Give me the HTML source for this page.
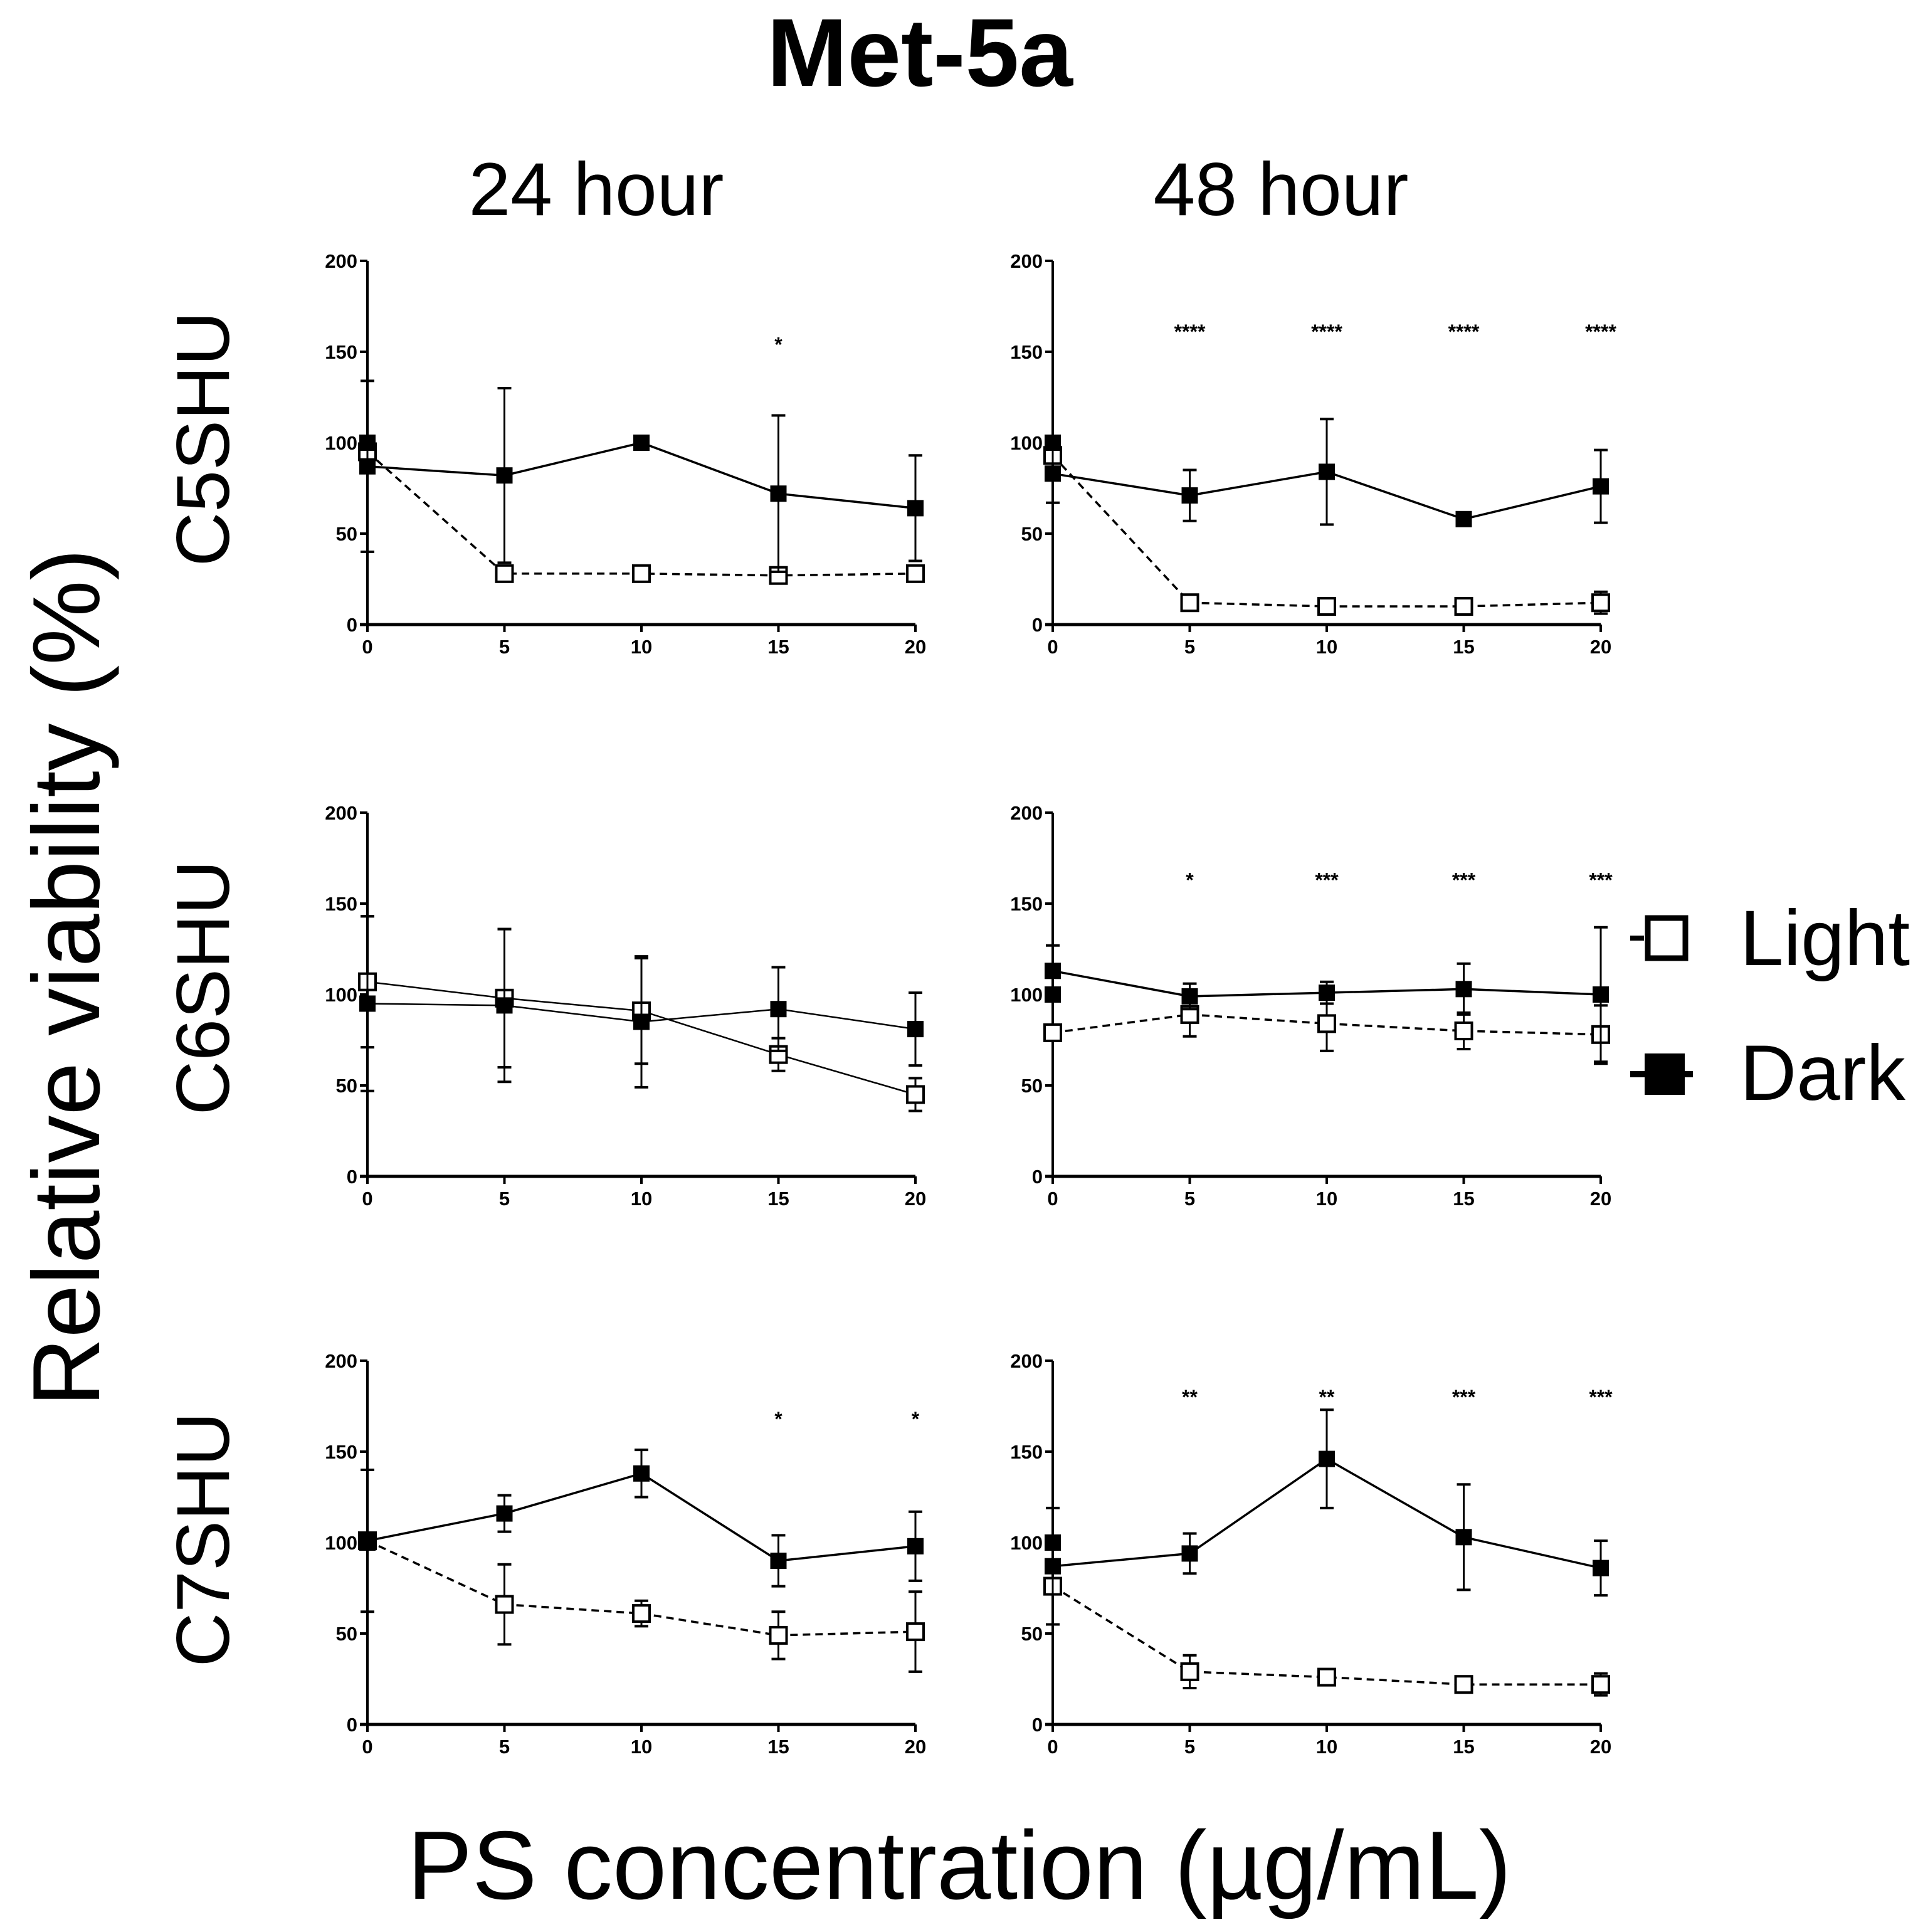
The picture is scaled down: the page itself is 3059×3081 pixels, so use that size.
<!DOCTYPE html>
<html><head><meta charset="utf-8"><style>
html,body{margin:0;padding:0;background:#fff;}
svg{display:block;font-family:"Liberation Sans",sans-serif;}
</style></head><body>
<svg id="chart" width="3059" height="3081" viewBox="0 0 3059 3081" xmlns="http://www.w3.org/2000/svg">
<text x="1467" y="137" font-size="154" font-weight="bold" text-anchor="middle">Met-5a</text>
<text x="951" y="343" font-size="120" text-anchor="middle">24 hour</text>
<text x="2043" y="343" font-size="120" text-anchor="middle">48 hour</text>
<text transform="translate(365,700) rotate(-90)" font-size="120" text-anchor="middle">C5SHU</text>
<text transform="translate(365,1575) rotate(-90)" font-size="120" text-anchor="middle">C6SHU</text>
<text transform="translate(365,2455) rotate(-90)" font-size="120" text-anchor="middle">C7SHU</text>
<text transform="translate(158,1559) rotate(-90)" font-size="152" text-anchor="middle">Relative viability (%)</text>
<text x="1530" y="3028" font-size="155" text-anchor="middle">PS concentration (µg/mL)</text>
<g>
<g>
<line x1="2600" y1="1496" x2="2700" y2="1496" stroke="#000" stroke-width="8" stroke-dasharray="22 12"/>
<rect x="2628" y="1464" width="60" height="64" fill="#fff" stroke="#000" stroke-width="9"/>
<text x="2775" y="1539" font-size="125">Light</text>
</g>
<g>
<line x1="2600" y1="1713" x2="2700" y2="1713" stroke="#000" stroke-width="10"/>
<rect x="2623" y="1680" width="64" height="66" fill="#000"/>
<text x="2775" y="1754" font-size="125">Dark</text>
</g>
</g>
<g id="panels"></g>
</svg>
<script>
const xCats = [0, 5, 10, 15, 20];
const yTicks = [0, 50, 100, 150, 200];
// panel 1: C5SHU 24h
const p1Dark = [87, 82, 100, 72, 64];
const p1DarkErr = [47, 48, 0, 43, 29];
const p1Light = [95, 28, 28, 27, 28];
const p1LightErr = [2, 2, 2, 2, 3];
const p1Stars = ["", "", "", "*", ""];
// panel 2: C5SHU 48h
const p2Dark = [83, 71, 84, 58, 76];
const p2DarkErr = [16, 14, 29, 2, 20];
const p2Light = [93, 12, 10, 10, 12];
const p2LightErr = [3, 2, 3, 3, 6];
const p2Stars = ["", "****", "****", "****", "****"];
// panel 3: C6SHU 24h
const p3Dark = [95, 94, 85, 92, 81];
const p3DarkErr = [48, 42, 36, 23, 20];
const p3Light = [107, 98, 91, 67, 45];
const p3LightErr = [36, 38, 29, 9, 9];
const p3Stars = ["", "", "", "", ""];
// panel 4: C6SHU 48h
const p4Dark = [113, 99, 101, 103, 100];
const p4DarkErr = [14, 7, 6, 14, 37];
const p4Light = [79, 89, 84, 80, 78];
const p4LightErr = [2, 12, 15, 10, 16];
const p4Stars = ["", "*", "***", "***", "***"];
// panel 5: C7SHU 24h
const p5Dark = [101, 116, 138, 90, 98];
const p5DarkErr = [39, 10, 13, 14, 19];
const p5Light = [101, 66, 61, 49, 51];
const p5LightErr = [2, 22, 7, 13, 22];
const p5Stars = ["", "", "", "*", "*"];
// panel 6: C7SHU 48h
const p6Dark = [87, 94, 146, 103, 86];
const p6DarkErr = [32, 11, 27, 29, 15];
const p6Light = [76, 29, 26, 22, 22];
const p6LightErr = [2, 9, 2, 3, 6];
const p6Stars = ["", "**", "**", "***", "***"];
const controlValue = 100;

const NS = "http://www.w3.org/2000/svg";
const root = document.getElementById("panels");
function mk(tag, attrs, parent) {
  const e = document.createElementNS(NS, tag);
  for (const k in attrs) e.setAttribute(k, attrs[k]);
  parent.appendChild(e);
  return e;
}
const panels = [
  {name:"c5shu-24h", x0:586, y0:996, d:p1Dark, de:p1DarkErr, l:p1Light, le:p1LightErr, s:p1Stars, thin:false, ctrl:true, starY:155},
  {name:"c5shu-48h", x0:1679, y0:996, d:p2Dark, de:p2DarkErr, l:p2Light, le:p2LightErr, s:p2Stars, thin:false, ctrl:true, starY:162},
  {name:"c6shu-24h", x0:586, y0:1876, d:p3Dark, de:p3DarkErr, l:p3Light, le:p3LightErr, s:p3Stars, thin:true, ctrl:false, starY:160},
  {name:"c6shu-48h", x0:1679, y0:1876, d:p4Dark, de:p4DarkErr, l:p4Light, le:p4LightErr, s:p4Stars, thin:false, ctrl:true, starY:164},
  {name:"c7shu-24h", x0:586, y0:2750, d:p5Dark, de:p5DarkErr, l:p5Light, le:p5LightErr, s:p5Stars, thin:false, ctrl:true, starY:169},
  {name:"c7shu-48h", x0:1679, y0:2750, d:p6Dark, de:p6DarkErr, l:p6Light, le:p6LightErr, s:p6Stars, thin:false, ctrl:true, starY:181}
];
const W = 874, H = 580;
panels.forEach(p => {
  const g = mk("g", {}, root);
  
  
  const X = v => p.x0 + v / 20 * W;
  const Y = v => p.y0 - v / 200 * H;
  const ax = mk("g", {}, g);
  
  
  mk("line", {x1:p.x0, y1:Y(200), x2:p.x0, y2:p.y0+12, stroke:"#000", "stroke-width":4}, ax);
  mk("line", {x1:p.x0-12, y1:p.y0, x2:X(20), y2:p.y0, stroke:"#000", "stroke-width":5}, ax);
  yTicks.forEach(t => {
    mk("line", {x1:p.x0-12, y1:Y(t), x2:p.x0, y2:Y(t), stroke:"#000", "stroke-width":4}, ax);
    const tx = mk("text", {x:p.x0-16, y:Y(t)+11, "font-size":31, "font-weight":"bold", "text-anchor":"end"}, ax);
    
    
    tx.textContent = t;
  });
  xCats.forEach(c => {
    mk("line", {x1:X(c), y1:p.y0, x2:X(c), y2:p.y0+12, stroke:"#000", "stroke-width":4}, ax);
    const tx = mk("text", {x:X(c), y:p.y0+46, "font-size":31, "font-weight":"bold", "text-anchor":"middle"}, ax);
    
    
    tx.textContent = c;
  });
  const lw = p.thin ? 2.5 : 3.5;
  function series(vals, errs, filled, name) {
    const sg = mk("g", {}, g);
    
    
    vals.forEach((v, i) => {
      const e = errs[i];
      if (e > 0) {
        mk("line", {x1:X(xCats[i]), y1:Y(v+e), x2:X(xCats[i]), y2:Y(v-e), stroke:"#000", "stroke-width":3}, sg);
        mk("line", {x1:X(xCats[i])-11, y1:Y(v+e), x2:X(xCats[i])+11, y2:Y(v+e), stroke:"#000", "stroke-width":4}, sg);
        mk("line", {x1:X(xCats[i])-11, y1:Y(v-e), x2:X(xCats[i])+11, y2:Y(v-e), stroke:"#000", "stroke-width":4}, sg);
      }
    });
    const pts = vals.map((v, i) => X(xCats[i]) + "," + Y(v)).join(" ");
    const attrs = {points:pts, fill:"none", stroke:"#000", "stroke-width":lw};
    if (!filled && !p.thin) attrs["stroke-dasharray"] = "12 8";
    mk("polyline", attrs, sg);
    vals.forEach((v, i) => {
      const r = mk("rect", {x:X(xCats[i])-13, y:Y(v)-13, width:26, height:26,
        fill: filled ? "#000" : "#fff", stroke:"#000", "stroke-width": filled ? 0 : 4}, sg);
      
      
    });
  }
  series(p.l, p.le, false, 'light-series');
  series(p.d, p.de, true, 'dark-series');
  if (p.ctrl) {
    const c = mk("rect", {x:X(0)-13, y:Y(controlValue)-13, width:26, height:26, fill:"#000"}, g);
    
    
  }
  p.s.forEach((s, i) => {
    if (!s) return;
    const t = mk("text", {x:X(xCats[i]), y:Y(p.starY)+14, "font-size":32, "font-weight":"bold", "text-anchor":"middle"}, g);
    
    
    t.textContent = s;
  });
});
</script>
</body></html>
